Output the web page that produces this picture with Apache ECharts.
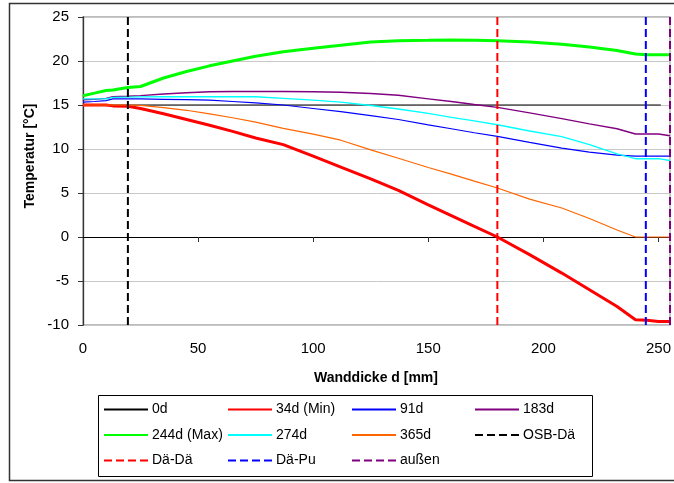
<!DOCTYPE html>
<html>
<head>
<meta charset="utf-8">
<script src="https://cdn.jsdelivr.net/npm/echarts@6/dist/echarts.min.js"></script>
<style>
html,body{margin:0;padding:0;background:#fff;}
#chart{width:674px;height:483px;}
</style>
</head>
<body>
<div id="chart"></div>
<script>
// ---- data ----
const thickness = [0, 5, 10, 13, 19.5, 25, 35, 45, 55, 65, 75, 87, 100, 112, 125, 137, 150, 160, 170, 180, 194, 208, 220, 232, 240, 245, 250, 255];
const d0x = [0, 251];
const d0 = [15, 15];
const d34 = [15.0, 15.0, 15.0, 14.9, 14.85, 14.6, 14.0, 13.35, 12.7, 12.0, 11.25, 10.5, 9.2, 7.95, 6.6, 5.3, 3.65, 2.43, 1.2, 0, -2.0, -4.1, -6.0, -7.9, -9.4, -9.45, -9.6, -9.6];
const d91 = [15.33, 15.4, 15.5, 15.7, 15.7, 15.7, 15.65, 15.6, 15.55, 15.4, 15.25, 15.0, 14.6, 14.24, 13.8, 13.35, 12.75, 12.3, 11.85, 11.43, 10.75, 10.1, 9.65, 9.3, 9.2, 9.2, 9.2, 9.2];
const d183 = [15.6, 15.65, 15.75, 15.94, 16.0, 16.06, 16.25, 16.4, 16.5, 16.53, 16.53, 16.53, 16.5, 16.45, 16.3, 16.1, 15.7, 15.4, 15.05, 14.73, 14.1, 13.45, 12.85, 12.3, 11.7, 11.7, 11.7, 11.5];
const d244 = [16.06, 16.35, 16.65, 16.7, 17.0, 17.1, 18.07, 18.8, 19.45, 20.0, 20.55, 21.05, 21.45, 21.8, 22.15, 22.3, 22.35, 22.4, 22.35, 22.3, 22.15, 21.9, 21.6, 21.2, 20.8, 20.7, 20.7, 20.7];
const d274 = [15.7, 15.7, 15.7, 15.87, 15.9, 15.92, 15.94, 15.94, 15.94, 15.94, 15.94, 15.75, 15.55, 15.33, 14.95, 14.55, 14.05, 13.6, 13.2, 12.76, 12.05, 11.4, 10.5, 9.45, 8.9, 8.9, 8.9, 8.7];
const d365 = [15.0, 15.0, 15.0, 15.0, 15.0, 14.95, 14.7, 14.4, 14.0, 13.55, 13.05, 12.35, 11.7, 11.0, 9.9, 8.95, 7.9, 7.15, 6.35, 5.57, 4.3, 3.3, 2.1, 0.8, 0, 0, 0, 0];
const layerNames = ['OSB-Dä', 'Dä-Dä', 'Dä-Pu', 'außen'];
const layerPos = [19.5, 180, 244.5, 255];
const yTicks = [-10, -5, 0, 5, 10, 15, 20, 25];
const xTicks = [0, 50, 100, 150, 200, 250];

// ---- build ----
const FONT = 'Liberation Sans';
const zip = (xs, ys) => xs.map((x, i) => [x, ys[i]]);

const curves = [
  { name: '0d', x: d0x, y: d0, color: '#000000', width: 1 },
  { name: '34d (Min)', x: thickness, y: d34, color: '#ff0000', width: 3 },
  { name: '91d', x: thickness, y: d91, color: '#0000ff', width: 1.2 },
  { name: '183d', x: thickness, y: d183, color: '#800080', width: 1.4 },
  { name: '244d (Max)', x: thickness, y: d244, color: '#00ff00', width: 3 },
  { name: '274d', x: thickness, y: d274, color: '#00ffff', width: 1.4 },
  { name: '365d', x: thickness, y: d365, color: '#ff6600', width: 1.2 }
];
const layerColors = ['#000000', '#ff0000', '#0000ff', '#800080'];

const series = curves.map(c => ({
  name: c.name, type: 'line', data: zip(c.x, c.y), symbol: 'none',
  lineStyle: { color: c.color, width: c.width }, itemStyle: { color: c.color },
  xAxisIndex: 0, z: 3
}));
layerNames.forEach((n, i) => {
  series.push({
    name: n, type: 'line', data: [[layerPos[i], yTicks[0]], [layerPos[i], yTicks[yTicks.length - 1]]],
    symbol: 'none', clip: false,
    lineStyle: { color: layerColors[i], width: 2, type: [8, 4] }, itemStyle: { color: layerColors[i] },
    xAxisIndex: 0, z: 4
  });
});

const order = ['0d', '34d (Min)', '91d', '183d', '244d (Max)', '274d', '365d', 'OSB-Dä', 'Dä-Dä', 'Dä-Pu', 'außen'];
const colLeft = [103, 227, 351, 474];
const rowMid = [410.5, 436, 461.5];
const legends = order.map((n, i) => ({
  data: [n], left: colLeft[i % 4], top: rowMid[Math.floor(i / 4)] - 8,
  padding: 0, itemWidth: 44, itemHeight: 16, selectedMode: false,
  itemStyle: { color: 'rgba(0,0,0,0)', borderWidth: 0, opacity: 0 },
  textStyle: { fontFamily: FONT, fontSize: 14, color: '#000', padding: [0, 0, 0, -1] }
}));

const chart = echarts.init(document.getElementById('chart'), null, { renderer: 'canvas' });
chart.setOption({
  animation: false,
  backgroundColor: '#fff',
  textStyle: { fontFamily: FONT },
  grid: { left: 83, right: 4, top: 17, bottom: 158, show: true, borderColor: '#a6a6a6', borderWidth: 1.3, backgroundColor: 'transparent' },
  xAxis: [
    { type: 'value', min: 0, max: 255, interval: 50, position: 'bottom',
      axisLine: { show: false, onZero: false }, axisTick: { show: false },
      splitLine: { show: false },
      axisLabel: { fontFamily: FONT, fontSize: 15, color: '#000', margin: 16, customValues: xTicks } },
    { type: 'value', min: 0, max: 255, interval: 50, position: 'bottom',
      axisLine: { show: true, onZero: true, lineStyle: { color: '#000', width: 1.2 } },
      axisTick: { show: true, length: 5, lineStyle: { color: '#333' }, customValues: xTicks.slice(1) },
      axisLabel: { show: false }, splitLine: { show: false } }
  ],
  yAxis: { type: 'value', min: -10, max: 25, interval: 5,
    axisLine: { show: true, onZero: false, lineStyle: { color: '#333', width: 1.3 } },
    axisTick: { show: true, length: 5, lineStyle: { color: '#333' } },
    axisLabel: { fontFamily: FONT, fontSize: 15, color: '#000', margin: 14 },
    splitLine: { show: true, lineStyle: { color: '#c8c8c8', width: 1 } } },
  legend: legends,
  series: series,
  graphic: [
    { type: 'rect', shape: { x: 9.5, y: 3.5, width: 700, height: 477 }, style: { fill: 'none', stroke: '#333', lineWidth: 1.5 }, z: -1, silent: true },
    { type: 'rect', shape: { x: 98.5, y: 395.5, width: 494, height: 81 }, style: { fill: 'none', stroke: '#000', lineWidth: 1 }, silent: true },
    { type: 'text', x: 30, y: 156, rotation: Math.PI / 2,
      style: { text: 'Temperatur [°C]', font: 'bold 14px "Liberation Sans"', fill: '#000', textAlign: 'center', textVerticalAlign: 'middle' } },
    { type: 'text', x: 376, y: 378,
      style: { text: 'Wanddicke d [mm]', font: 'bold 14px "Liberation Sans"', fill: '#000', textAlign: 'center', textVerticalAlign: 'middle' } }
  ]
});
</script>
</body>
</html>
